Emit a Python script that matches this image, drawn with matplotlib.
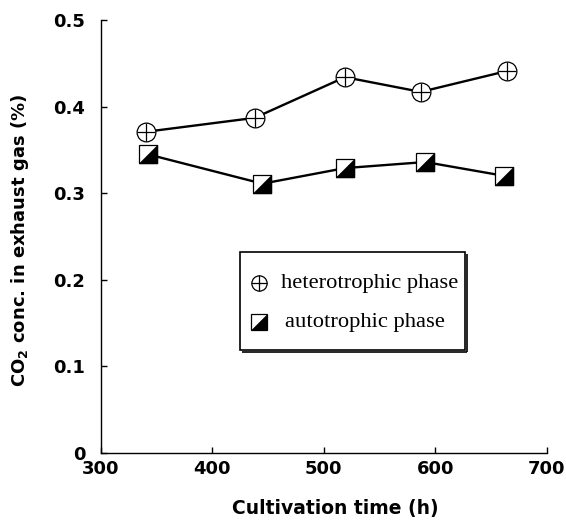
import matplotlib
matplotlib.use("Agg")
import matplotlib.pyplot as plt
from matplotlib.patches import Rectangle

plt.rcParams['mathtext.fontset'] = 'custom'
plt.rcParams['mathtext.bf'] = 'DejaVu Sans:bold'
plt.rcParams['mathtext.rm'] = 'DejaVu Sans:bold'

hetero_t = [341, 438, 519, 587, 664]
hetero_co2 = [0.371, 0.387, 0.434, 0.417, 0.441]
auto_t = [342, 445, 519, 591, 662]
auto_co2 = [0.345, 0.311, 0.329, 0.336, 0.320]

xticks = [300, 400, 500, 600, 700]
yticks = [0, 0.1, 0.2, 0.3, 0.4, 0.5]
ytick_labels = ['0', '0.1', '0.2', '0.3', '0.4', '0.5']
legend_labels = ['heterotrophic phase', 'autotrophic phase']

fig = plt.figure(figsize=(5.66, 5.21), dpi=100)
ax = fig.add_axes([0.178, 0.1305, 0.788, 0.8311])

ms = 13.5
tri = [(-1, -1), (1, -1), (1, 1), (-1, -1)]

# heterotrophic
ax.plot(hetero_t, hetero_co2, '-', color='black', lw=1.7, zorder=2)
ax.plot(hetero_t, hetero_co2, 'o', ms=ms, mfc='white', mec='black', mew=0.9, ls='none', zorder=3)
ax.plot(hetero_t, hetero_co2, '+', ms=ms, mec='black', mew=0.9, ls='none', zorder=4)

# autotrophic
ax.plot(auto_t, auto_co2, '-', color='black', lw=1.7, zorder=2)
ax.plot(auto_t, auto_co2, 's', ms=ms, mfc='white', mec='black', mew=0.9, ls='none', zorder=3)
ax.plot(auto_t, auto_co2, marker=tri, ms=ms, mfc='black', mec='black', mew=0.4, ls='none', zorder=4)

ax.set_xlim(300, 700)
ax.set_ylim(0, 0.5)
ax.set_xticks(xticks)
ax.set_yticks(yticks)
ax.set_yticklabels(ytick_labels)

for s in ['top', 'right']:
    ax.spines[s].set_visible(False)
for s in ['left', 'bottom']:
    ax.spines[s].set_linewidth(1.0)

ax.tick_params(direction='in', length=4.5, width=1, labelsize=13)
ax.tick_params(axis='x', pad=5)
ax.tick_params(axis='y', pad=11)
for lab in ax.get_xticklabels() + ax.get_yticklabels():
    lab.set_fontfamily('DejaVu Sans')
    lab.set_fontweight('bold')

ax.set_xlabel('Cultivation time (h)', fontfamily='DejaVu Sans', fontweight='bold', fontsize=13.5)
ax.set_ylabel(r'CO$_{\mathbf{2}}$ conc. in exhaust gas (%)', fontfamily='DejaVu Sans', fontweight='bold', fontsize=13)
ax.xaxis.set_label_coords(0.526, -0.106)
ax.yaxis.set_label_coords(-0.157, 0.49)

# legend box drawn manually
bx0, bx1, by0, by1 = 0.3117, 0.8161, 0.2379, 0.4642
ax.add_patch(Rectangle((bx0, by0), bx1 - bx0, by1 - by0, transform=ax.transAxes,
                       facecolor='white', edgecolor='black', lw=1.2, zorder=5))
ax.plot([bx0 + 0.004, bx1 + 0.004], [by0 - 0.005, by0 - 0.005], transform=ax.transAxes,
        color='black', lw=1.2, zorder=5, solid_capstyle='butt')
ax.plot([bx1 + 0.004, bx1 + 0.004], [by0 - 0.005, by1 - 0.005], transform=ax.transAxes,
        color='black', lw=1.2, zorder=5, solid_capstyle='butt')

lms = 11
mx = 0.354
ly1, ly2 = 0.3926, 0.3025
ax.plot([mx], [ly1], 'o', ms=lms, mfc='white', mec='black', mew=0.9, transform=ax.transAxes, zorder=6)
ax.plot([mx], [ly1], '+', ms=lms, mec='black', mew=0.9, transform=ax.transAxes, zorder=7)
ax.plot([mx], [ly2], 's', ms=lms, mfc='white', mec='black', mew=0.9, transform=ax.transAxes, zorder=6)
ax.plot([mx], [ly2], marker=tri, ms=lms, mfc='black', mec='black', mew=0.4, transform=ax.transAxes, zorder=7)

ax.text(0.4036, ly1, legend_labels[0], transform=ax.transAxes, va='center', ha='left',
        fontfamily='Liberation Serif', fontsize=16.2, zorder=7)
ax.text(0.4126, ly2, legend_labels[1], transform=ax.transAxes, va='center', ha='left',
        fontfamily='Liberation Serif', fontsize=16.2, zorder=7)

fig.savefig('out.png', dpi=100)
